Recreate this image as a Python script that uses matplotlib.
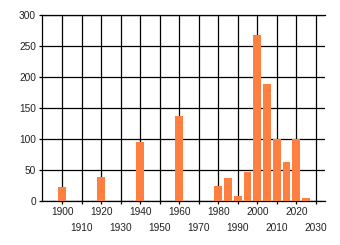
import matplotlib
matplotlib.use('Agg')
import matplotlib.pyplot as plt

# Data
years = [1900, 1920, 1940, 1960, 1980, 1985, 1990, 1995, 2000, 2005, 2010, 2015, 2020, 2025]
counts = [22, 39, 95, 137, 24, 37, 8, 46, 268, 189, 100, 63, 100, 5]

major_ticks = [1900, 1920, 1940, 1960, 1980, 2000, 2020]
minor_ticks = [1910, 1930, 1950, 1970, 1990, 2010, 2030]
y_ticks = [0, 50, 100, 150, 200, 250, 300]

plt.rcParams['font.family'] = ['Liberation Sans', 'DejaVu Sans']
plt.rcParams['font.size'] = 7.3

fig = plt.figure(figsize=(3.4, 2.45), dpi=100)
ax = fig.add_axes([0.1226, 0.1796, 0.956 - 0.1226, 0.9388 - 0.1796])

ax.bar(years, counts, width=4, color='#FF7F40', zorder=3)

ax.set_xlim(1889.5, 2034.7)
ax.set_ylim(0, 300)
ax.set_yticks(y_ticks)
ax.set_xticks(major_ticks)
ax.set_xticks(minor_ticks, minor=True)
ax.set_xticklabels([str(t) for t in major_ticks])
ax.set_xticklabels([str(t) for t in minor_ticks], minor=True)

ax.grid(True, which='both', color='black', linewidth=0.9, zorder=1)
ax.set_axisbelow(True)

ax.tick_params(axis='x', which='major', length=2, width=0.9, pad=2.5, colors='black')
ax.tick_params(axis='x', which='minor', length=2, width=0.9, pad=14, colors='black')
ax.tick_params(axis='y', length=2.2, width=0.9, pad=2, colors='black')
for lbl in ax.get_xticklabels(which='both') + ax.get_yticklabels():
    lbl.set_color('#222222')

ax.spines['right'].set_visible(False)
for s in ['left', 'bottom', 'top']:
    ax.spines[s].set_linewidth(0.9)

fig.savefig('out.png', dpi=100)
